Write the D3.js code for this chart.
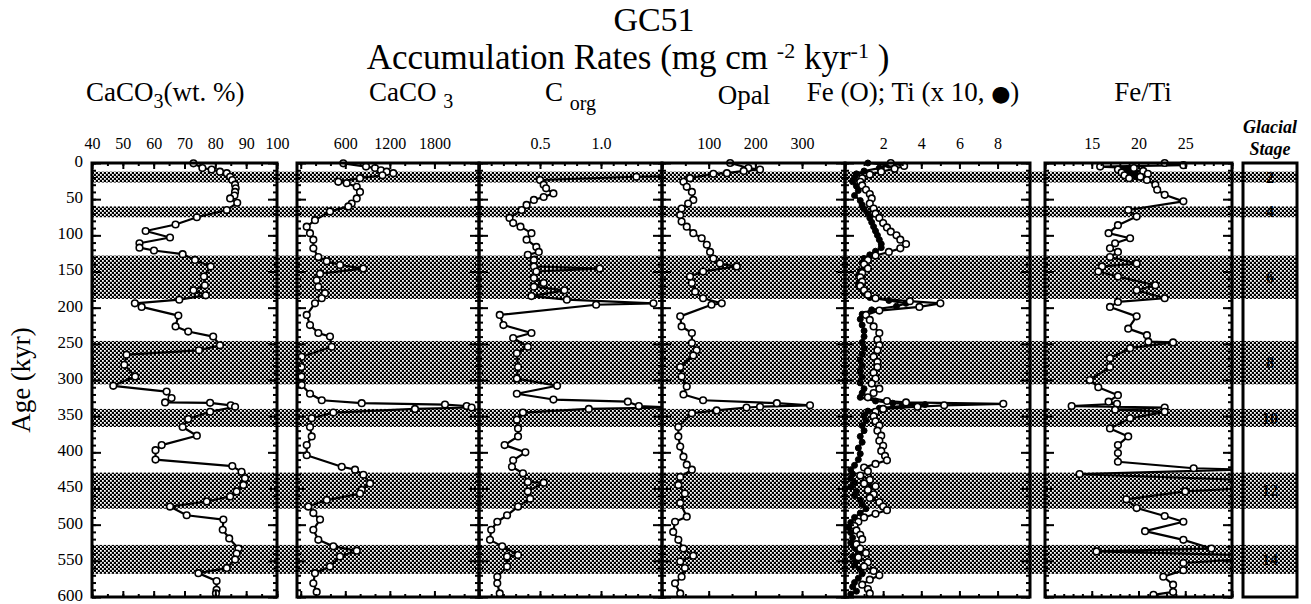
<!DOCTYPE html>
<html><head><meta charset="utf-8">
<script src="https://cdn.jsdelivr.net/npm/d3@7"></script>
<style>
body{margin:0;background:#fff;}
text{font-family:"Liberation Serif","Times New Roman",serif;fill:#000;}
</style>
</head><body>
<svg id="c" width="1311" height="604"></svg>
<script>
// ---------------- DATA ----------------
const ageTicks = [0,50,100,150,200,250,300,350,400,450,500,550,600];
const glacialBands = [[12,27],[60,75],[128,188],[246,306],[340,365],[428,478],[528,568]];
const glacialStages = ["2","4","6","8","10","12","14"];

const caco3PctTicks = [40,50,60,70,80,90,100];
const caco3ArTicks = [600,1200,1800];
const corgTicks = [0.5,1.0];
const opalTicks = [100,200,300];
const feTiTicks = [2,4,6,8];
const feTiRatioTicks = [15,20,25];

// [age kyr, value]
const caco3Pct = [[0.5,72.9],[7,75.8],[9,78.8],[12,81.5],[14,83.7],[19,84.8],[23.5,85.5],[30,86.4],[35,86.6],[40,86.4],[45,86.2],[49,84.8],[55,87.1],[65,83.7],[75,74],[85,67.1],[94,57.4],[103,65.3],[111,55.4],[117,55.4],[121,60.1],[126,69.4],[134,73.4],[143,78.5],[157,76.3],[169,76.6],[176,72.9],[183,76.9],[189,68.3],[194,53.9],[199,56.1],[211,68],[226,67.1],[233,71.2],[240,79.3],[252,81.5],[259,74.7],[265,51.2],[279,50.5],[295,54],[308,46.9],[316,64.2],[325,65.8],[331,63.7],[331.5,78.3],[335,85],[337,86.4],[344,78.3],[354,71.2],[365,69.4],[377,74],[390,62.6],[397,60.6],[410,60.6],[419,85.5],[427,88.5],[436,89.6],[445,89.1],[454,86.9],[461,84.8],[468,77.2],[475,65.3],[487,70.7],[493,82.6],[507,82.4],[519,84.5],[533,87.5],[540,86.9],[548,86.4],[560,83.7],[567,74.5],[578,80.4],[590,80.4],[595,80.2]];

const caco3Ar = [[0.5,573],[5,879],[7,1000],[10,1080],[12,1157],[14,1246],[17,1100],[21,798],[26,506],[28,619],[33,754],[40,798],[49,754],[56,686],[60,641],[67,394],[79,192],[88,81],[97,125],[106,170],[118,170],[130,237],[136,350],[141,529],[146,842],[153,260],[162,215],[171,237],[180,327],[187,283],[194,192],[210,81],[224,125],[235,237],[240,394],[254,417],[268,13],[282,10],[295,10],[307,13],[319,125],[328,283],[332,821],[334,1942],[336,2234],[338,2301],[340,1538],[345,439],[353,148],[365,125],[378,148],[390,81],[404,81],[420,552],[424,731],[431,843],[443,933],[452,821],[457,798],[466,350],[475,102],[484,170],[493,260],[507,170],[521,237],[530,439],[536,754],[544,529],[558,394],[567,192],[581,170],[593,215]];

const corg = [[17,2.0],[19,1.29],[23.5,0.5],[30,0.53],[35,0.55],[42,0.61],[47,0.53],[51,0.45],[58,0.39],[65,0.35],[76,0.25],[83,0.28],[88,0.34],[97,0.43],[106,0.39],[116,0.47],[123,0.49],[127,0.40],[134,0.45],[143,0.45],[146,0.99],[150,0.47],[159,0.45],[166,0.53],[171,0.45],[176,0.70],[184,0.43],[189,0.72],[194,1.43],[196,0.96],[210,0.17],[224,0.2],[235,0.43],[242,0.28],[254,0.40],[263,0.31],[282,0.32],[298,0.31],[308,0.64],[319,0.31],[327,0.61],[330,1.22],[336,1.31],[338,1.6],[340,0.9],[345,0.36],[355,0.31],[367,0.32],[378,0.32],[390,0.21],[400,0.38],[411,0.28],[420,0.27],[429,0.36],[441,0.40],[442,0.53],[454,0.40],[464,0.42],[475,0.32],[487,0.23],[496,0.15],[507,0.10],[521,0.09],[530,0.19],[542,0.32],[544,0.23],[558,0.23],[572,0.15],[581,0.15],[595,0.17]];

const opal = [[0,146],[7,185],[9,210],[11,175],[14,139],[15,110],[21,60],[26,46],[33,53],[40,64],[51,67],[56,56],[63,42],[72,39],[81,42],[88,53],[97,67],[104,85],[113,96],[123,103],[132,110],[139,124],[143,160],[150,88],[157,60],[166,64],[178,71],[187,88],[194,128],[196,106],[212,39],[226,42],[235,64],[249,64],[259,74],[266,67],[282,39],[295,42],[309,53],[320,46],[328,88],[332,246],[335,317],[337,210],[338,181],[342,117],[346,64],[365,35],[378,35],[392,39],[406,46],[417,53],[424,64],[434,39],[445,35],[457,49],[470,39],[489,53],[496,28],[510,24],[521,35],[533,46],[543,67],[551,39],[560,49],[572,42],[581,28],[595,39]];

const feAr = [[0,2.4],[4,3.1],[8,2.6],[12,1.9],[16,1.3],[21,0.9],[26,0.8],[31,0.9],[37,1.1],[43,1.3],[49,1.4],[56,1.3],[63,1.5],[70,1.6],[76,1.8],[83,2.0],[89,2.2],[95,2.4],[100,2.7],[106,2.9],[112,3.2],[118,2.9],[123,2.3],[128,1.6],[134,1.2],[140,1.0],[146,1.2],[152,0.9],[158,0.8],[164,0.9],[170,0.8],[176,1.0],[182,1.2],[187,1.6],[191,3.4],[194,5.0],[199,3.9],[204,1.8],[210,1.1],[217,1.3],[226,1.5],[235,1.8],[244,1.7],[252,1.8],[259,1.7],[268,1.5],[275,1.7],[282,1.7],[290,1.5],[298,1.6],[305,1.4],[312,1.8],[318,1.5],[324,1.2],[329,2.2],[331,3.2],[333,8.3],[335,5.2],[337,3.8],[340,2.0],[344,1.6],[350,1.5],[357,1.6],[363,1.8],[370,1.7],[377,1.9],[384,1.8],[391,2.0],[398,1.9],[405,2.1],[411,2.2],[416,1.6],[421,1.0],[426,1.2],[432,0.8],[438,1.3],[443,1.0],[447,1.6],[452,1.2],[458,1.5],[463,1.3],[469,1.8],[475,2.0],[480,2.2],[485,1.6],[490,1.0],[496,0.7],[502,0.5],[508,0.6],[514,0.8],[520,0.9],[527,0.6],[533,0.8],[539,1.1],[545,0.7],[552,1.2],[558,1.0],[564,1.5],[570,1.8],[576,1.3],[583,0.9],[589,1.2],[595,1.3]];

const tiAr10 = [[0,1.2],[3,2.3],[7,1.8],[11,1.0],[15,0.6],[20,0.5],[26,0.4],[32,0.6],[38,0.7],[45,0.5],[52,0.8],[58,0.9],[64,1.0],[70,1.2],[76,1.3],[82,1.4],[88,1.5],[94,1.6],[100,1.7],[106,1.8],[112,1.9],[117,1.9],[122,1.6],[127,1.3],[132,1.0],[138,0.9],[144,1.0],[150,0.8],[156,0.7],[162,0.8],[168,0.7],[174,0.9],[180,1.0],[186,1.3],[190,2.3],[194,3.2],[198,2.7],[203,1.4],[209,0.9],[216,0.8],[224,0.9],[232,1.0],[240,1.0],[248,0.9],[256,1.0],[264,0.9],[272,0.8],[280,0.9],[288,0.8],[296,0.9],[304,0.8],[312,1.0],[318,0.9],[324,0.8],[329,1.6],[332,2.5],[334,4.2],[336,3.0],[339,1.8],[343,1.2],[349,1.0],[356,1.1],[363,0.9],[370,1.0],[378,0.8],[386,0.9],[394,0.7],[402,0.8],[410,0.7],[418,0.5],[424,0.3],[430,0.4],[436,0.3],[442,0.5],[448,0.3],[454,0.6],[460,0.5],[466,0.8],[472,0.9],[478,1.1],[484,0.8],[490,0.5],[497,0.3],[504,0.2],[511,0.3],[518,0.4],[525,0.3],[532,0.5],[538,0.7],[544,0.4],[550,0.6],[556,0.5],[562,0.8],[568,0.9],[574,0.7],[580,0.5],[586,0.4],[592,0.6],[596,0.3]];

const feTiRatio = [[0,22.8],[3,24.8],[5,15.9],[7,19.5],[9,17.8],[11,20.5],[13,18.2],[15,21],[17,18.5],[19,20.2],[21,19],[23.5,20.9],[30,21.8],[37,22],[44,22.8],[53,24.8],[65,18.9],[74,19.8],[86,17.8],[97,16.8],[104,19.1],[111,17.5],[118,16.95],[123,17.8],[130,16.95],[139,19.8],[143,16.1],[150,15.7],[157,17.8],[169,21.8],[176,19.8],[187,22.8],[192,17.8],[199,16.95],[212,19.8],[229,18.9],[238,20.9],[247,21.05],[248,23.7],[256,19.1],[270,16.95],[282,16.95],[300,14.8],[310,15.7],[321,17.8],[330,16.8],[333,17.7],[336,12.85],[338,22.8],[341,17.5],[344,22.8],[353,19.1],[367,16.95],[378,18.9],[390,17.8],[401,17.8],[413,17.8],[422,25.9],[424,31],[430,13.7],[438,31],[450,31],[454,25],[465,18.7],[477,19.8],[488,22.8],[496,24.8],[509,20.7],[521,24.8],[533,27.8],[537,15.5],[542,31],[548,31],[553,24.8],[563,24.8],[572,22.65],[583,23.7],[593,23.7],[597,21.6]];

// ---------------- LAYOUT ----------------
const svg = d3.select("#c");
const Y0 = 163, Y1 = 597;
const y = d3.scaleLinear().domain([0, 600]).range([Y0, Y1]);
const BAND_X0 = 92, BAND_X1 = 1297;
const STAGE_X0 = 1243, STAGE_X1 = 1297;

const panels = [
  {x0:92,  x1:277,  dom:[40,100],   labels:caco3PctTicks,   major:10,  minor:5,   fmt:d3.format("d")},
  {x0:297, x1:479,  dom:[-50,2400], labels:caco3ArTicks,    major:600, minor:200, fmt:d3.format("d")},
  {x0:479, x1:662,  dom:[0,1.5],    labels:corgTicks,       major:0.5, minor:0.1, fmt:d3.format(".1f")},
  {x0:662, x1:845,  dom:[0,392],    labels:opalTicks,       major:100, minor:50,  fmt:d3.format("d")},
  {x0:845, x1:1030, dom:[0,9.7],    labels:feTiTicks,       major:2,   minor:1,   fmt:d3.format("d")},
  {x0:1045,x1:1232, dom:[10,30],    labels:feTiRatioTicks,  major:5,   minor:1,   fmt:d3.format("d")}
];
panels.forEach(p => p.x = d3.scaleLinear().domain(p.dom).range([p.x0, p.x1]));

const series = [
  {p:0, data:caco3Pct, filled:false},
  {p:1, data:caco3Ar, filled:false},
  {p:2, data:corg, filled:false},
  {p:3, data:opal, filled:false},
  {p:4, data:tiAr10, filled:true},
  {p:4, data:feAr, filled:false},
  {p:5, data:feTiRatio, filled:false}
];

// defs: hatch pattern + clips
const defs = svg.append("defs");
const pat = defs.append("pattern").attr("id","hatch").attr("patternUnits","userSpaceOnUse")
  .attr("width",4).attr("height",4);
pat.append("rect").attr("width",4).attr("height",4).attr("fill","#000");
pat.append("rect").attr("x",2).attr("y",0).attr("width",1.8).attr("height",1.8).attr("fill","#fff");
pat.append("rect").attr("x",0).attr("y",2).attr("width",1.8).attr("height",1.8).attr("fill","#fff");
panels.forEach((p,i) => {
  defs.append("clipPath").attr("id","clip"+i).append("rect")
    .attr("x",p.x0).attr("y",Y0-6).attr("width",p.x1-p.x0).attr("height",Y1-Y0+6);
});

// glacial bands
svg.append("g").selectAll("rect").data(glacialBands).join("rect")
  .attr("x",BAND_X0).attr("width",BAND_X1-BAND_X0)
  .attr("y",d=>y(d[0])).attr("height",d=>y(d[1])-y(d[0]))
  .attr("fill","url(#hatch)");

// series
const line = (p) => d3.line().x(d=>p.x(d[1])).y(d=>y(d[0]));
series.forEach(s => {
  const p = panels[s.p];
  const g = svg.append("g").attr("clip-path","url(#clip"+s.p+")");
  g.append("path").datum(s.data).attr("d",line(p))
    .attr("fill","none").attr("stroke","#000").attr("stroke-width",2.2).attr("stroke-linejoin","round");
  g.selectAll("circle").data(s.data).join("circle")
    .attr("cx",d=>p.x(d[1])).attr("cy",d=>y(d[0]))
    .attr("r", s.filled ? 3.0 : 3.3)
    .attr("fill", s.filled ? "#000" : "#fff")
    .attr("stroke","#000").attr("stroke-width", s.filled ? 1 : 1.6);
});

// frames + ticks
const ageMinor = d3.range(0, 601, 10);
function rng(dom, step){
  const a = Math.ceil(dom[0]/step - 1e-9)*step;
  return d3.range(a, dom[1]+1e-9, step).map(v=>+v.toFixed(6));
}
panels.forEach(p => {
  const g = svg.append("g");
  const noDom = sel => sel.select(".domain").remove();
  g.append("g").attr("transform",`translate(${p.x0},0)`)
    .call(d3.axisRight(y).tickValues(ageMinor).tickSize(4).tickFormat("")).call(noDom);
  g.append("g").attr("transform",`translate(${p.x0},0)`)
    .call(d3.axisRight(y).tickValues(ageTicks).tickSize(9).tickFormat("")).call(noDom);
  g.append("g").attr("transform",`translate(${p.x1},0)`)
    .call(d3.axisLeft(y).tickValues(ageMinor).tickSize(4).tickFormat("")).call(noDom);
  g.append("g").attr("transform",`translate(${p.x1},0)`)
    .call(d3.axisLeft(y).tickValues(ageTicks).tickSize(9).tickFormat("")).call(noDom);
  const mn = rng(p.dom, p.minor), mj = rng(p.dom, p.major);
  g.append("g").attr("transform",`translate(0,${Y0})`)
    .call(d3.axisBottom(p.x).tickValues(mn).tickSize(3).tickFormat("")).call(noDom);
  g.append("g").attr("transform",`translate(0,${Y0})`)
    .call(d3.axisBottom(p.x).tickValues(mj).tickSize(6).tickFormat("")).call(noDom);
  g.append("g").attr("transform",`translate(0,${Y1})`)
    .call(d3.axisTop(p.x).tickValues(mn).tickSize(3).tickFormat("")).call(noDom);
  g.append("g").attr("transform",`translate(0,${Y1})`)
    .call(d3.axisTop(p.x).tickValues(mj).tickSize(6).tickFormat("")).call(noDom);
  g.selectAll(".tick line").attr("stroke","#000").attr("stroke-width",2);
  const lab = g.append("g").attr("transform",`translate(0,${Y0-14})`)
    .call(d3.axisTop(p.x).tickValues(p.labels).tickSize(0).tickPadding(0).tickFormat(p.fmt)).call(noDom);
  lab.selectAll("text").attr("font-size",16).attr("font-family","Liberation Serif").attr("fill","#000");
  g.append("rect").attr("x",p.x0).attr("y",Y0).attr("width",p.x1-p.x0).attr("height",Y1-Y0)
    .attr("fill","none").attr("stroke","#000").attr("stroke-width",3);
});

// age axis labels
const ya = svg.append("g").attr("transform",`translate(${panels[0].x0},-2)`)
  .call(d3.axisLeft(y).tickValues(ageTicks).tickSize(0).tickPadding(9));
ya.select(".domain").remove();
ya.selectAll("text").attr("font-size",17).attr("font-family","Liberation Serif").attr("fill","#000");

svg.append("text").attr("transform",`translate(30,${(Y0+Y1)/2}) rotate(-90)`)
  .attr("text-anchor","middle").attr("font-size",27).text("Age (kyr)");

// glacial stage box
svg.append("rect").attr("x",STAGE_X0).attr("y",Y0).attr("width",STAGE_X1-STAGE_X0).attr("height",Y1-Y0)
  .attr("fill","none").attr("stroke","#000").attr("stroke-width",3);
svg.append("g").selectAll("text").data(glacialBands).join("text")
  .attr("x",(STAGE_X0+STAGE_X1)/2).attr("y",d=>y((d[0]+d[1])/2)).attr("dy","0.35em")
  .attr("text-anchor","middle").attr("font-size",16).attr("font-weight","bold")
  .text((d,i)=>glacialStages[i]);
svg.append("text").attr("x",1270).attr("y",133).attr("text-anchor","middle")
  .attr("font-size",18).attr("font-weight","bold").attr("font-style","italic").text("Glacial");
svg.append("text").attr("x",1270).attr("y",155).attr("text-anchor","middle")
  .attr("font-size",18).attr("font-weight","bold").attr("font-style","italic").text("Stage");

// titles
svg.append("text").attr("x",654).attr("y",30.5).attr("text-anchor","middle").attr("font-size",34).text("GC51");
const t2 = svg.append("text").attr("x",628).attr("y",69).attr("text-anchor","middle").attr("font-size",35);
t2.append("tspan").text("Accumulation Rates (mg cm ");
t2.append("tspan").attr("dy",-11).attr("font-size",22).text("-2");
t2.append("tspan").attr("dy",11).text(" kyr");
t2.append("tspan").attr("dy",-11).attr("font-size",22).text("-1");
t2.append("tspan").attr("dy",11).text(" )");

// panel titles
const PT = 101, FS = 27;
const t1 = svg.append("text").attr("x",86).attr("y",PT).attr("font-size",FS);
t1.append("tspan").text("CaCO");
t1.append("tspan").attr("dy",7).attr("font-size",20).text("3");
t1.append("tspan").attr("dy",-7).text("(wt. %)");
const t3 = svg.append("text").attr("x",369).attr("y",PT).attr("font-size",FS);
t3.append("tspan").text("CaCO ");
t3.append("tspan").attr("dy",7).attr("font-size",20).text("3");
const t4 = svg.append("text").attr("x",545).attr("y",PT).attr("font-size",FS);
t4.append("tspan").text("C ");
t4.append("tspan").attr("dy",9).attr("font-size",20).text("org");
svg.append("text").attr("x",744).attr("y",PT+3).attr("text-anchor","middle").attr("font-size",FS).text("Opal");
const t5 = svg.append("text").attr("x",913).attr("y",PT).attr("text-anchor","middle").attr("font-size",FS);
t5.append("tspan").text("Fe (O); Ti (x 10, ");
t5.append("tspan").attr("font-family","DejaVu Sans").attr("font-size",22).text("●");
t5.append("tspan").text(")");
svg.append("text").attr("x",1143).attr("y",PT).attr("text-anchor","middle").attr("font-size",FS).text("Fe/Ti");
</script>
</body></html>
